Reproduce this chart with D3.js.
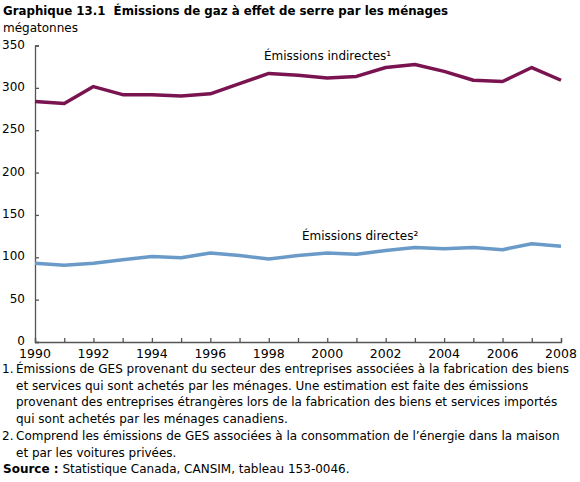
<!DOCTYPE html>
<html>
<head>
<meta charset="utf-8">
<script src="https://cdn.jsdelivr.net/npm/d3@7"></script>
<style>
  body { margin: 0; background: #fff; }
  svg text { font-family: "DejaVu Sans", Verdana, sans-serif; fill: #000; font-size: 12px; }
</style>
</head>
<body>
<div id="chart"></div>
<script>
// Data
const years = d3.range(1990, 2009);
const indirectes = [284, 281.5, 301.5, 292, 292, 290.5, 293, 305, 317, 315, 311.5, 313.5, 324, 327.5, 319.5, 309, 307.5, 324, 309];
const directes = [93, 90.5, 93, 97, 101, 99.5, 105, 102, 98, 102, 105, 103.5, 108, 111.5, 110, 111.5, 109, 116, 113];
const yTicks = [0, 50, 100, 150, 200, 250, 300, 350];
const xTickLabels = [1990, 1992, 1994, 1996, 1998, 2000, 2002, 2004, 2006, 2008];
const notes = [
  ["1.", "Émissions de GES provenant du secteur des entreprises associées à la fabrication des biens"],
  ["", "et services qui sont achetés par les ménages. Une estimation est faite des émissions"],
  ["", "provenant des entreprises étrangères lors de la fabrication des biens et services importés"],
  ["", "qui sont achetés par les ménages canadiens."],
  ["2.", "Comprend les émissions de GES associées à la consommation de l’énergie dans la maison"],
  ["", "et par les voitures privées."]
];

const svgWidth = 580, svgHeight = 482;
const plot = { left: 35, right: 561, top: 45.5, bottom: 342 };

const svg = d3.select("#chart").append("svg")
  .attr("width", svgWidth)
  .attr("height", svgHeight);

const x = d3.scaleLinear().domain([1990, 2008]).range([plot.left, plot.right]);
const y = d3.scaleLinear().domain([0, 350]).range([plot.bottom, plot.top]);

// title
svg.append("text")
  .attr("x", 3).attr("y", 15)
  .style("font-weight", "bold").style("font-size", "11.8px")
  .text("Graphique 13.1\u00a0\u00a0Émissions de gaz à effet de serre par les ménages");
svg.append("text")
  .attr("x", 3).attr("y", 32)
  .text("mégatonnes");

// y axis
const yAxis = svg.append("g")
  .attr("transform", "translate(" + plot.left + ",0)")
  .call(d3.axisRight(y).tickValues(yTicks).tickSize(4).tickFormat(""));
yAxis.selectAll("path, line").attr("stroke", "#555").attr("stroke-width", 1.3);
svg.selectAll(".ylab").data(yTicks).enter().append("text")
  .attr("class", "ylab")
  .attr("x", 25).attr("y", d => y(d) + 3)
  .attr("text-anchor", "end")
  .text(d => d);

// x axis
const xAxis = svg.append("g")
  .attr("transform", "translate(0," + plot.bottom + ")")
  .call(d3.axisTop(x).tickValues(years).tickSize(4).tickFormat(""));
xAxis.selectAll("path, line").attr("stroke", "#555").attr("stroke-width", 1.3);
svg.selectAll(".xlab").data(xTickLabels).enter().append("text")
  .attr("class", "xlab")
  .attr("x", d => x(d)).attr("y", plot.bottom + 16)
  .attr("text-anchor", "middle")
  .style("font-size", "12.5px")
  .text(d => d);

// lines
const line = d3.line().x((d, i) => x(years[i])).y(d => y(d));
svg.append("path").datum(indirectes)
  .attr("fill", "none").attr("stroke", "#7a1450").attr("stroke-width", 3.5)
  .attr("stroke-linejoin", "round")
  .attr("d", line);
svg.append("path").datum(directes)
  .attr("fill", "none").attr("stroke", "#6a9bc8").attr("stroke-width", 3.5)
  .attr("stroke-linejoin", "round")
  .attr("d", line);

// series labels
svg.append("text").attr("x", 264).attr("y", 60).text("Émissions indirectes¹");
svg.append("text").attr("x", 302).attr("y", 240).text("Émissions directes²");

// notes
const noteG = svg.append("g");
notes.forEach((n, i) => {
  const ny = 373 + i * 16.7;
  if (n[0]) noteG.append("text").attr("x", 2).attr("y", ny).text(n[0]);
  noteG.append("text").attr("x", 16).attr("y", ny).text(n[1]);
});
const src = noteG.append("text").attr("x", 3).attr("y", 373 + 6 * 16.7);
src.append("tspan").style("font-weight", "bold").text("Source :");
src.append("tspan").text(" Statistique Canada, CANSIM, tableau 153-0046.");
</script>
</body>
</html>
